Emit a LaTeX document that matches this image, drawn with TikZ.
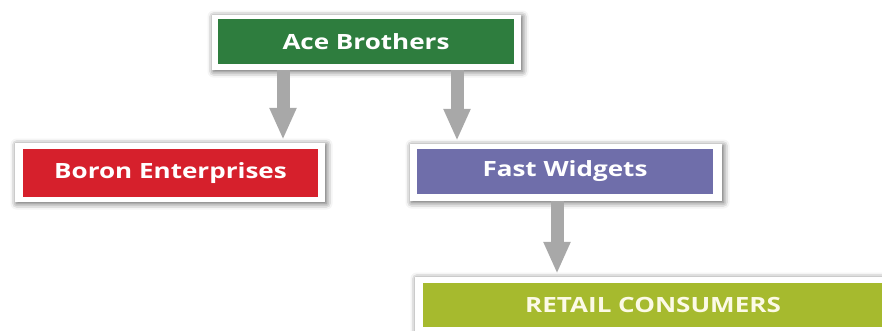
\documentclass[tikz,border=0pt]{standalone}
\usepackage{graphicx}
\usepackage{fontspec}
\setmainfont{Open Sans}
\usetikzlibrary{arrows.meta,shadows.blur}
\definecolor{acegreen}{RGB}{46,125,62}
\definecolor{boronred}{RGB}{214,32,44}
\definecolor{fastpurple}{RGB}{111,110,170}
\definecolor{retailolive}{RGB}{166,186,46}
\definecolor{arrowgray}{RGB}{168,168,168}
\newcommand{\widetext}[1]{\scalebox{1.24}[1]{#1}}
\tikzset{
  frame/.style={draw=none, fill=white, inner sep=0pt,
    blur shadow={shadow xshift=1.5pt, shadow yshift=-1.5pt, shadow blur radius=6pt, shadow opacity=65}},
  inner/.style={draw=none, inner sep=0pt, text=white,
    font=\bfseries\fontsize{21}{24}\selectfont},
  conn/.style={draw=arrowgray, line width=13pt,
    -{Triangle[width=25pt,length=32pt]}, shorten >=3pt}
}
\begin{document}
\begin{tikzpicture}[x=1pt,y=-1pt]
\useasboundingbox (0,0) rectangle (882,330);
\clip (0,0) rectangle (882,330);
% Ace Brothers
\node[frame, minimum width=309pt, minimum height=55pt] (aceF) at (366.5,42.5) {};
\node[inner, fill=acegreen, minimum width=296pt, minimum height=45pt] (ace) at (366,41.5) {\widetext{Ace Brothers}};
% Boron Enterprises
\node[frame, minimum width=310pt, minimum height=59pt] (boronF) at (170,172.5) {};
\node[inner, fill=boronred, minimum width=295pt, minimum height=48pt] (boron) at (170.5,173) {\widetext{Boron Enterprises}};
% Fast Widgets
\node[frame, minimum width=312pt, minimum height=57pt] (fastF) at (566,172.5) {};
\node[inner, fill=fastpurple, minimum width=296pt, minimum height=45pt] (fast) at (565,171.5) {\widetext{Fast Widgets}};
% Retail Consumers
\node[frame, minimum width=476pt, minimum height=56pt] (retailF) at (653,305) {};
\node[inner, fill=retailolive, text={rgb,255:red,252;green,250;blue,230}, minimum width=460pt, minimum height=44pt] (retail) at (653,305) {\widetext{RETAIL CONSUMERS}};
% connectors
\draw[conn] ([xshift=-83.5pt]aceF.south) -- ([xshift=113pt]boronF.north);
\draw[conn] ([xshift=90.5pt]aceF.south) -- ([xshift=-109pt]fastF.north);
\draw[conn] ([xshift=-9pt]fastF.south) -- ([xshift=-96pt]retailF.north);
\end{tikzpicture}
\end{document}
